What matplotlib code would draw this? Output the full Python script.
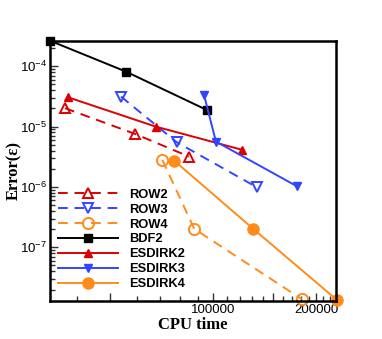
import matplotlib
matplotlib.use("Agg")
import matplotlib.pyplot as plt
from matplotlib.ticker import FixedLocator, FixedFormatter, LogLocator, NullFormatter

# data (CPU time, error)
row2_t = [36850, 59020, 84900]
row2_e = [2.02e-5, 7.57e-6, 3.19e-6]
row3_t = [53720, 78160, 133900]
row3_e = [3.14e-5, 5.52e-6, 9.93e-7]
row4_t = [70940, 88000, 181300]
row4_e = [2.81e-6, 2.02e-7, 1.39e-8]
bdf2_t = [33300, 55560, 95650]
bdf2_e = [2.65e-4, 8.14e-5, 1.89e-5]
esdirk2_t = [37520, 67870, 121600]
esdirk2_e = [3.07e-5, 1.0e-5, 4.12e-6]
esdirk3_t = [93930, 101800, 176000]
esdirk3_e = [3.35e-5, 5.65e-6, 1.02e-6]
esdirk4_t = [76770, 130900, 229600]
esdirk4_e = [2.74e-6, 2.02e-7, 1.35e-8]

red = "#dd0000"
blue = "#3344ff"
orange = "#ff8c1a"

plt.rcParams["font.family"] = ["Liberation Sans", "DejaVu Sans"]

fig = plt.figure(figsize=(3.82, 3.39), dpi=100)
ax = fig.add_axes([50 / 382, 1 - 301 / 339, 286 / 382, 260 / 339])

lw = 1.4
dash = (0, (5, 3.5))
ax.plot(row2_t, row2_e, color=red, ls=dash, lw=lw, marker="^", ms=7,
        mfc="none", mew=1.4, label="ROW2", clip_on=False)
ax.plot(row3_t, row3_e, color=blue, ls=dash, lw=lw, marker="v", ms=7,
        mfc="none", mew=1.4, label="ROW3", clip_on=False)
ax.plot(row4_t, row4_e, color=orange, ls=dash, lw=lw, marker="o", ms=8,
        mfc="none", mew=1.4, label="ROW4", clip_on=False)
ax.plot(bdf2_t, bdf2_e, color="black", lw=lw, marker="s", ms=6,
        label="BDF2", clip_on=False)
ax.plot(esdirk2_t, esdirk2_e, color=red, lw=lw, marker="^", ms=6,
        label="ESDIRK2", clip_on=False)
ax.plot(esdirk3_t, esdirk3_e, color=blue, lw=lw, marker="v", ms=6,
        label="ESDIRK3", clip_on=False)
ax.plot(esdirk4_t, esdirk4_e, color=orange, lw=lw, marker="o", ms=8,
        label="ESDIRK4", clip_on=False)

ax.set_xscale("log")
ax.set_yscale("log")
ax.set_xlim(33300, 228500)
ax.set_ylim(1.29e-8, 2.62e-4)

ax.xaxis.set_major_locator(FixedLocator([50000, 100000, 150000, 200000]))
ax.xaxis.set_major_formatter(FixedFormatter(["", "100000", "", "200000"]))
ax.xaxis.set_minor_locator(FixedLocator([k * 10000 for k in range(4, 23) if k % 5 != 0]))
ax.xaxis.set_minor_formatter(NullFormatter())
ax.yaxis.set_major_locator(LogLocator(base=10, numticks=20))
ax.yaxis.set_minor_locator(LogLocator(base=10, subs=range(2, 10), numticks=20))
ax.yaxis.set_minor_formatter(NullFormatter())

ax.tick_params(which="both", direction="in", top=False, right=False,
               labelsize=9.5, pad=2, width=1.0, color="#333333")
ax.tick_params(which="major", length=6)
ax.tick_params(which="minor", length=3.5)
for s in ax.spines.values():
    s.set_linewidth(1.8)

ax.set_xlabel("CPU time", family="Liberation Serif", fontweight="bold",
              fontsize=12, labelpad=1)
ax.set_ylabel("Error(\u03b5)", family="Liberation Serif", fontweight="bold",
              fontsize=12)
ax.yaxis.set_label_coords(-0.098, 0.5)

leg = ax.legend(loc="lower left", bbox_to_anchor=(0.0, 0.012), frameon=False,
                handlelength=4.7, handletextpad=0.85, labelspacing=0.22,
                borderaxespad=0.2, prop={"weight": "bold", "size": 9.3})

fig.savefig("out.png", dpi=100)
